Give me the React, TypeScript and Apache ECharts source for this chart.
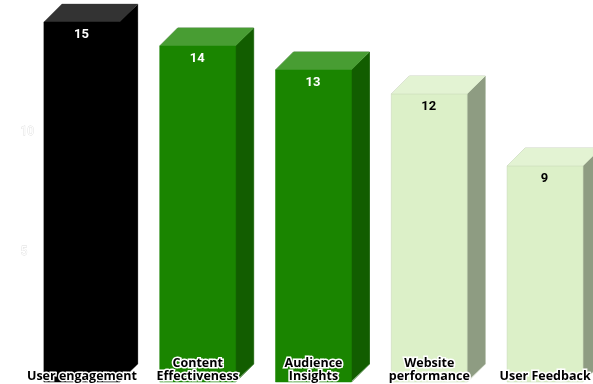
import React, { useEffect, useRef } from "react";
import * as echarts from "echarts";

const categories = [
  "User engagement",
  "Content\nEffectiveness",
  "Audience\nInsights",
  "Website\nperformance",
  "User Feedback",
];
const values = [15, 14, 13, 12, 9];
const frontColors = ["#000000", "#1a8500", "#1a8500", "#dcf0c8", "#dcf0c8"];
const topColors = ["#333333", "#489d33", "#489d33", "#e3f3d3", "#e3f3d3"];
const sideColors = ["#000000", "#125d00", "#125d00", "#8e9c82", "#8e9c82"];
const outerEdgeColors = ["#a8a8a8", "#125d00", "#125d00", "#b8c4ac", "#b8c4ac"];
const frontEdgeColors = ["#000000", "#1a8500", "#1a8500", "#c4d4b4", "#c4d4b4"];
const valueTextColors = ["#ffffff", "#ffffff", "#ffffff", "#000000", "#000000"];

const BAR_WIDTH = 76;
const DEPTH = 18;
const FRONT_DROP = 11;
// The side face tucks under the front one so no seam shows between them.
const SEAM_OVERLAP = 1;

// Each column is a front face with a top and a side face, sitting slightly
// in front of the plane that the value axis is measured on.
function renderColumn(params: any, api: any) {
  const i = params.dataIndex;
  const [cx, yTop] = api.coord([api.value(0), api.value(1)]);
  const [, yBase] = api.coord([api.value(0), 0]);
  const x0 = cx - BAR_WIDTH / 2;
  const x1 = cx + BAR_WIDTH / 2;
  const top = yTop + FRONT_DROP;
  const bottom = yBase + FRONT_DROP;
  return {
    type: "group",
    children: [
      {
        type: "polyline",
        shape: {
          points: [
            [x0, top],
            [x0 + DEPTH, top - DEPTH],
            [x1 + DEPTH, top - DEPTH],
            [x1 + DEPTH, bottom - DEPTH],
            [x1, bottom],
          ],
        },
        style: { fill: "none", stroke: outerEdgeColors[i], lineWidth: 0.75 },
      },
      {
        type: "polygon",
        shape: {
          points: [
            [x1 - SEAM_OVERLAP, top],
            [x1 + DEPTH, top - DEPTH],
            [x1 + DEPTH, bottom - DEPTH],
            [x1 - SEAM_OVERLAP, bottom],
          ],
        },
        style: { fill: sideColors[i] },
      },
      {
        type: "polygon",
        shape: {
          points: [
            [x0, top],
            [x0 + DEPTH, top - DEPTH],
            [x1 + DEPTH, top - DEPTH],
            [x1, top],
          ],
        },
        style: { fill: topColors[i] },
      },
      {
        type: "rect",
        shape: { x: x0, y: top, width: BAR_WIDTH, height: bottom - top },
        style: { fill: frontColors[i], stroke: frontEdgeColors[i], lineWidth: 0.5 },
      },
      {
        type: "text",
        style: {
          x: cx - 0.5,
          y: top + 11,
          text: String(api.value(1)),
          fill: valueTextColors[i],
          font: "bold 13px Roboto",
          align: "center",
          verticalAlign: "middle",
        },
      },
    ],
  };
}

export default function App() {
  const ref = useRef<HTMLDivElement>(null);

  useEffect(() => {
    const chart = echarts.init(ref.current!, undefined, { renderer: "svg" });
    chart.setOption({
      animation: false,
      grid: { left: 24, width: 579, top: 11, height: 360, containLabel: false },
      xAxis: {
        type: "category",
        data: categories,
        z: 10,
        axisLine: { show: false },
        axisTick: { show: false },
        splitLine: { show: false },
        axisLabel: {
          interval: 0,
          inside: true,
          margin: -11,
          verticalAlign: "bottom",
          lineHeight: 13,
          color: "#000000",
          fontFamily: "Open Sans",
          fontWeight: "bold",
          fontSize: 12.5,
          textBorderColor: "#ffffff",
          textBorderWidth: 3,
        },
      },
      yAxis: {
        type: "value",
        min: 0,
        max: 15,
        interval: 5,
        axisLine: { show: false },
        axisTick: { show: false },
        splitLine: { show: false },
        axisLabel: {
          margin: 3.5,
          align: "left",
          color: "#ffffff",
          fontFamily: "Roboto",
          fontSize: 12,
          textBorderColor: "#dddddd",
          textBorderWidth: 0.8,
          formatter: (v: number) => (v === 5 || v === 10 ? String(v) : ""),
        },
      },
      series: [
        {
          type: "custom",
          z: 1,
          clip: false,
          renderItem: renderColumn,
          encode: { x: 0, y: 1 },
          data: values.map((v, i) => [i, v]),
        },
      ],
    });
    return () => chart.dispose();
  }, []);

  // The drawing surface runs past the window's right edge, so the last column is cut off there.
  return <div ref={ref} style={{ position: "fixed", left: 0, top: 0, width: 613, height: 384 }} />;
}
